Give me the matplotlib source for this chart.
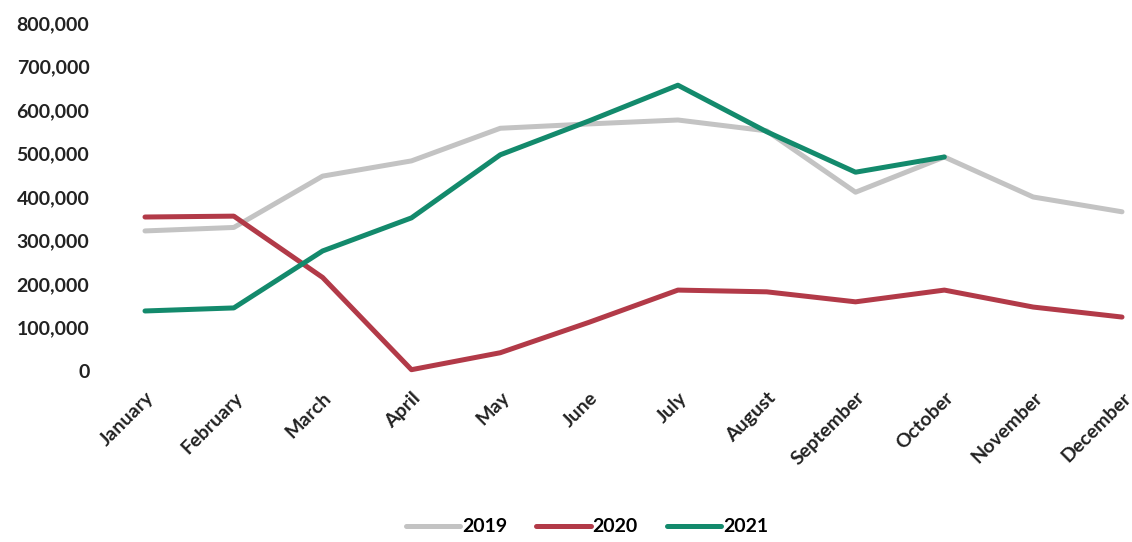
import matplotlib.pyplot as plt
from matplotlib.ticker import FuncFormatter

months = ['January', 'February', 'March', 'April', 'May', 'June', 'July',
          'August', 'September', 'October', 'November', 'December']
y2019 = [322000, 330000, 448000, 483000, 558000, 568000, 577000, 552000,
         411000, 492000, 400000, 366000]
y2020 = [354000, 356000, 215000, 3000, 42000, 112000, 186000, 182000,
         159000, 186000, 147000, 124000]
y2021 = [138000, 145000, 276000, 352000, 497000, 575000, 657000, 550000,
         457000, 492000]

plt.rcParams['font.family'] = ['Lato', 'DejaVu Sans']

fig = plt.figure(figsize=(11.32, 5.42), dpi=100)
ax = fig.add_axes([145 / 1132, 1 - 371 / 542, 977 / 1132, 348 / 542])

x = list(range(len(months)))
ax.plot(x, y2019, color='#c3c3c3', lw=3.6, label='2019', clip_on=False,
        solid_capstyle='round')
ax.plot(x, y2020, color='#b23a48', lw=3.6, label='2020', clip_on=False,
        solid_capstyle='round')
ax.plot(x[:len(y2021)], y2021, color='#138a6c', lw=3.6, label='2021',
        clip_on=False, solid_capstyle='round')

ax.set_xlim(0, 11)
ax.set_ylim(0, 800000)
ax.set_yticks(range(0, 800001, 100000))
ax.yaxis.set_major_formatter(FuncFormatter(lambda v, p: f'{int(v):,}'))
ax.set_xticks(x)
ax.set_xticklabels(months, rotation=45, ha='right', rotation_mode='anchor')

for s in ax.spines.values():
    s.set_visible(False)
ax.tick_params(length=0)
ax.tick_params(axis='y', pad=40, labelsize=14)
ax.tick_params(axis='x', pad=13, labelsize=14)
for lab in ax.get_yticklabels() + ax.get_xticklabels():
    lab.set_fontweight('bold')
    lab.set_color('#222222')

leg = fig.legend(loc='center', bbox_to_anchor=(587 / 1132, 1 - 527 / 542),
                 ncol=3, frameon=False, handlelength=2.8, handletextpad=0.1,
                 columnspacing=1.5, prop={'weight': 'bold', 'size': 14})

fig.savefig('out.png', dpi=100)
